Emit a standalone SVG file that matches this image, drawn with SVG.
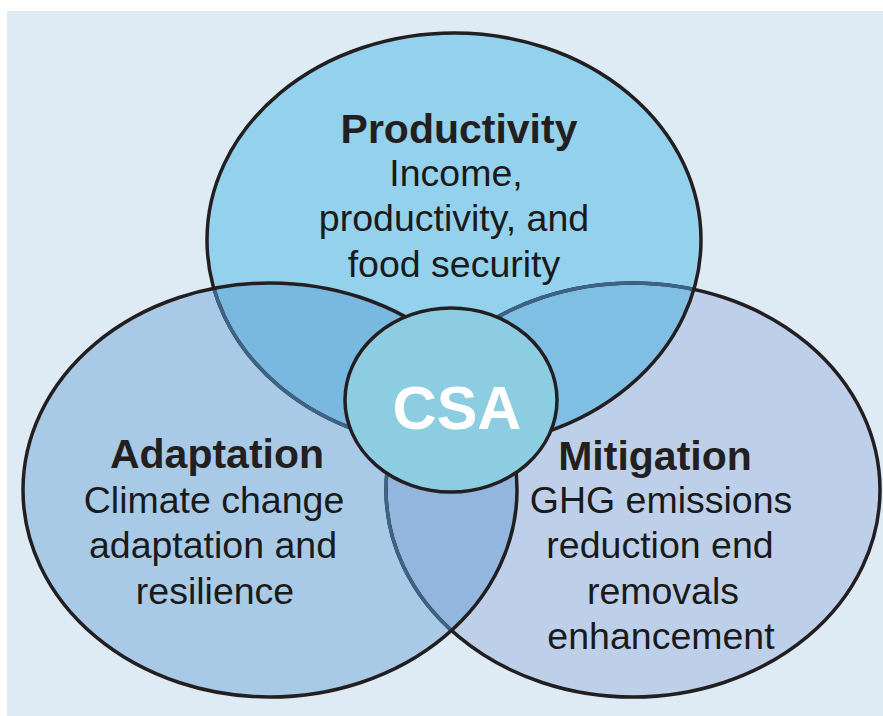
<svg xmlns="http://www.w3.org/2000/svg" width="883" height="716" viewBox="0 0 883 716">
  <style>
    .fill { stroke: none; }
    .edge { fill: none; stroke: #231f20; stroke-width: 3.5; }
    .edge-under { fill: none; stroke: #3d6385; stroke-width: 3.5; }
    .title { font-family: "Liberation Sans", Arial, sans-serif; font-weight: bold; font-size: 41px; fill: #231f20; text-anchor: middle; }
    .body { font-family: "Liberation Sans", Arial, sans-serif; font-size: 37.5px; fill: #1a1a1a; text-anchor: middle; }
    .core { font-family: "Liberation Sans", Arial, sans-serif; font-weight: bold; font-size: 61px; fill: #ffffff; text-anchor: middle; }
  </style>
  <defs>
    <ellipse id="shape-top" cx="454" cy="240" rx="247" ry="207"/>
    <ellipse id="shape-left" cx="270" cy="490" rx="247" ry="207"/>
    <ellipse id="shape-right" cx="633" cy="490" rx="247" ry="207"/>
    <clipPath id="in-top"><use href="#shape-top"/></clipPath>
    <clipPath id="in-left"><use href="#shape-left"/></clipPath>
    <clipPath id="in-top-or-left"><use href="#shape-top"/><use href="#shape-left"/></clipPath>
  </defs>

  <!-- panel -->
  <rect x="7" y="11" width="876" height="705" fill="#deeaf4"/>

  <!-- circle fills -->
  <g id="fills">
    <use href="#shape-right" class="fill" fill="#bed0e9"/>
    <use href="#shape-top" class="fill" fill="#93d1ed"/>
    <use href="#shape-left" class="fill" fill="#a8cae6"/>
  </g>

  <!-- pairwise overlaps -->
  <g id="overlaps">
    <use href="#shape-left" class="fill" fill="#79b8df" clip-path="url(#in-top)"/>
    <g clip-path="url(#in-top)"><use href="#shape-right" class="fill" fill="#7fbfe4"/></g>
    <g clip-path="url(#in-left)"><use href="#shape-right" class="fill" fill="#92b6de"/></g>
  </g>

  <!-- outlines: edges lying under another circle are drawn in dark blue -->
  <g id="connectors">
    <use href="#shape-right" class="edge"/>
    <use href="#shape-right" class="edge-under" clip-path="url(#in-top-or-left)"/>
    <use href="#shape-top" class="edge"/>
    <use href="#shape-top" class="edge-under" clip-path="url(#in-left)"/>
    <use href="#shape-left" class="edge"/>
  </g>

  <g id="productivity">
    <text class="title" x="459" y="143">Productivity</text>
    <text class="body" x="456" y="186">Income,</text>
    <text class="body" x="454" y="231">productivity, and</text>
    <text class="body" x="454" y="277">food security</text>
  </g>

  <g id="adaptation">
    <text class="title" x="217" y="468">Adaptation</text>
    <text class="body" x="214" y="513">Climate change</text>
    <text class="body" x="213" y="558">adaptation and</text>
    <text class="body" x="215" y="604">resilience</text>
  </g>

  <g id="mitigation">
    <text class="title" x="655" y="470">Mitigation</text>
    <text class="body" x="661" y="513">GHG emissions</text>
    <text class="body" x="660" y="558">reduction end</text>
    <text class="body" x="663" y="604">removals</text>
    <text class="body" x="661" y="649">enhancement</text>
  </g>

  <g id="csa">
    <ellipse cx="451" cy="400" rx="106" ry="92" fill="#8dcde2" stroke="#231f20" stroke-width="3.5"/>
    <text class="core" x="457" y="429">CSA</text>
  </g>
</svg>
